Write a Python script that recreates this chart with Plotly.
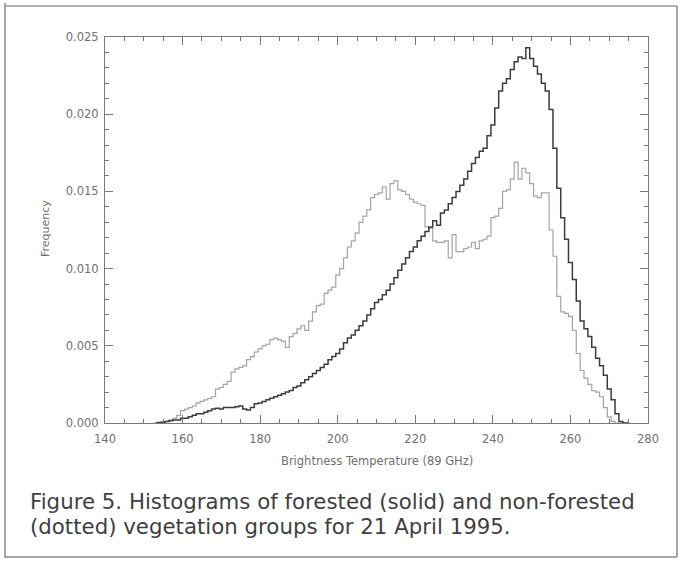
import plotly.graph_objects as go

# Bin centres (K), 1 K bins
temps = list(range(153, 276))

forested = [
    0, 0.00003, 0.00005, 0.0001, 0.00015, 0.0002, 0.0002, 0.0003, 0.0003, 0.0004,   # 153-162
    0.0005, 0.0006, 0.0006, 0.0007, 0.0008, 0.0009, 0.00095, 0.0009, 0.001, 0.001,  # 163-172
    0.001, 0.00105, 0.0011, 0.0009, 0.00085, 0.001, 0.00125, 0.0013, 0.0014, 0.0015,  # 173-182
    0.0016, 0.0017, 0.0018, 0.0019, 0.002, 0.0021, 0.0023, 0.0024, 0.0026, 0.0028,  # 183-192
    0.003, 0.0032, 0.0034, 0.0036, 0.0038, 0.0041, 0.0043, 0.0045, 0.0048, 0.0052,  # 193-202
    0.0055, 0.0057, 0.006, 0.0063, 0.0066, 0.0070, 0.0074, 0.0078, 0.0080, 0.0083,  # 203-212
    0.0086, 0.0090, 0.0094, 0.0099, 0.0103, 0.0107, 0.0111, 0.0114, 0.0118, 0.0121,  # 213-222
    0.0124, 0.0127, 0.0131, 0.0128, 0.0136, 0.0138, 0.0142, 0.0146, 0.0150, 0.0154,  # 223-232
    0.0158, 0.0163, 0.0168, 0.0172, 0.0176, 0.0178, 0.0186, 0.0193, 0.0204, 0.0215,  # 233-242
    0.0220, 0.0223, 0.0229, 0.0234, 0.0237, 0.0236, 0.0243, 0.0236, 0.0231, 0.0226,  # 243-252
    0.0220, 0.0215, 0.0203, 0.0178, 0.0152, 0.0133, 0.0119, 0.0104, 0.0093, 0.0079,  # 253-262
    0.0066, 0.0061, 0.0056, 0.0049, 0.0042, 0.0037, 0.0031, 0.0022, 0.0015, 0.0006,  # 263-272
    0.0001, 0, 0,                                                                    # 273-275
]

non_forested = [
    0, 0.00003, 0.00005, 0.0001, 0.0002, 0.0003, 0.0005, 0.0008, 0.0009, 0.001,     # 153-162
    0.0011, 0.0013, 0.0014, 0.0015, 0.0016, 0.0017, 0.0022, 0.0023, 0.0025, 0.0027,  # 163-172
    0.0033, 0.0035, 0.0036, 0.0037, 0.0041, 0.0043, 0.0046, 0.0048, 0.0050, 0.0051,  # 173-182
    0.0054, 0.0055, 0.0054, 0.0053, 0.0049, 0.0056, 0.0058, 0.0061, 0.0063, 0.0060,  # 183-192
    0.0066, 0.0072, 0.0076, 0.0077, 0.0084, 0.0086, 0.0088, 0.0096, 0.0100, 0.0107,  # 193-202
    0.0114, 0.0118, 0.0123, 0.0130, 0.0134, 0.0138, 0.0146, 0.0148, 0.0149, 0.0153,  # 203-212
    0.0145, 0.0155, 0.0157, 0.0151, 0.0150, 0.0148, 0.0145, 0.0143, 0.0142, 0.0141,  # 213-222
    0.0127, 0.0126, 0.0118, 0.0117, 0.0117, 0.0118, 0.0107, 0.0122, 0.0111, 0.0111,  # 223-232
    0.0113, 0.0114, 0.0117, 0.0113, 0.0118, 0.0119, 0.0121, 0.0133, 0.0134, 0.0139,  # 233-242
    0.0150, 0.0151, 0.0158, 0.0169, 0.0158, 0.0165, 0.0162, 0.0155, 0.0147, 0.0146,  # 243-252
    0.0149, 0.0149, 0.0125, 0.0108, 0.0082, 0.0072, 0.0071, 0.0069, 0.0060, 0.0045,  # 253-262
    0.0034, 0.0029, 0.0025, 0.0021, 0.0020, 0.0017, 0.0010, 0.0004, 0.0001, 0,       # 263-272
    0, 0, 0,                                                                         # 273-275
]

x_ticks = [140, 160, 180, 200, 220, 240, 260, 280]
y_ticks = [0.000, 0.005, 0.010, 0.015, 0.020, 0.025]

caption_lines = [
    "Figure 5. Histograms of forested (solid) and non-forested",
    "(dotted) vegetation groups for 21 April 1995.",
]
x_title = "Brightness Temperature (89 GHz)"
y_title = "Frequency"

W, H = 681, 562
L, R, T, B = 105, 648, 37, 423  # plot area in pixels
pw, ph = R - L, B - T


def px(x):
    return (x - L) / pw


def py(y):
    return (B - y) / ph


fig = go.Figure()
fig.add_trace(go.Scatter(x=temps, y=non_forested, mode="lines",
                         line=dict(shape="hvh", color="#a4a4a4", width=1.2),
                         name="non-forested", showlegend=False))
fig.add_trace(go.Scatter(x=temps, y=forested, mode="lines",
                         line=dict(shape="hvh", color="#3c3c3c", width=1.5),
                         name="forested", showlegend=False))

axis_font = dict(family="DejaVu Sans, Verdana, sans-serif", size=11.5, color="#707070")

fig.update_xaxes(range=[140, 280], tickmode="array", tickvals=x_ticks,
                 ticktext=[str(v) for v in x_ticks],
                 ticks="inside", ticklen=8, tickcolor="#7a7a7a", tickwidth=1,
                 minor=dict(dtick=5, ticks="inside", ticklen=4, tickcolor="#7a7a7a"),
                 showline=True, linecolor="#7a7a7a", linewidth=1, mirror="ticks",
                 showgrid=False, zeroline=False, tickfont=axis_font,
                 ticklabelstandoff=5)
fig.update_yaxes(range=[0, 0.025], tickmode="array", tickvals=y_ticks,
                 ticktext=[f"{v:.3f}" for v in y_ticks],
                 ticks="inside", ticklen=8, tickcolor="#7a7a7a", tickwidth=1,
                 minor=dict(dtick=0.001, ticks="inside", ticklen=4, tickcolor="#7a7a7a"),
                 showline=True, linecolor="#7a7a7a", linewidth=1, mirror="ticks",
                 showgrid=False, zeroline=False, tickfont=axis_font,
                 ticklabelstandoff=3)

annotations = [
    dict(text=x_title, x=0.5, y=py(461), xref="paper", yref="paper",
         showarrow=False, xanchor="center", yanchor="middle", font=axis_font),
    dict(text=y_title, x=px(45), y=py(229), xref="paper", yref="paper",
         showarrow=False, xanchor="center", yanchor="middle", textangle=-90,
         font=dict(family="DejaVu Sans, Verdana, sans-serif", size=11, color="#707070")),
]
cap_font = dict(family="DejaVu Sans, Verdana, sans-serif", size=21.3, color="#3f3f3f")
for i, line in enumerate(caption_lines):
    annotations.append(dict(text=line, x=px(28), y=py(501 + 25 * i), xref="paper", yref="paper",
                            showarrow=False, xanchor="left", yanchor="middle", font=cap_font))

border = dict(color="#8a8a8a", width=1.5)
shapes = [
    dict(type="line", xref="paper", yref="paper", x0=px(5), x1=px(5), y0=py(3), y1=py(558), line=border),
    dict(type="line", xref="paper", yref="paper", x0=px(5), x1=px(677), y0=py(6), y1=py(6),
         line=dict(color="#999999", width=1.5)),
    dict(type="line", xref="paper", yref="paper", x0=px(5), x1=px(677), y0=py(557), y1=py(557), line=border),
    dict(type="line", xref="paper", yref="paper", x0=px(677), x1=px(677), y0=py(6), y1=py(557), line=border),
]

fig.update_layout(width=W, height=H, autosize=False,
                  margin=dict(l=L, r=W - R, t=T, b=H - B),
                  paper_bgcolor="#ffffff", plot_bgcolor="#ffffff",
                  annotations=annotations, shapes=shapes, showlegend=False)

fig.write_html("out.html", config={"displayModeBar": False},
               post_script="document.body.style.margin='0';document.body.style.padding='0';")
